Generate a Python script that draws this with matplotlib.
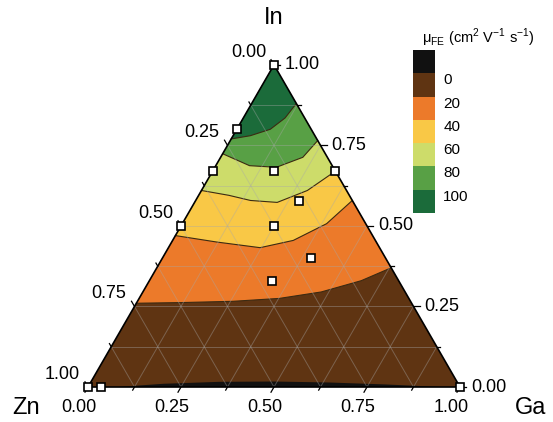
import numpy as np
import matplotlib.pyplot as plt
from matplotlib.colors import ListedColormap, BoundaryNorm
import matplotlib as mpl

plt.rcParams['font.family'] = ['Liberation Sans', 'DejaVu Sans']
plt.rcParams['mathtext.fontset'] = 'custom'
plt.rcParams['mathtext.rm'] = 'Liberation Sans'

# contour boundaries: s = position along the row (0 = Zn-In edge, 1 = Ga-In edge), In fraction
b0_s = [0.08, 0.20, 0.35, 0.50, 0.65, 0.80, 0.95]
b0_in = [0.0, 0.010, 0.016, 0.017, 0.014, 0.008, 0.0]
b20_s = [0, 0.16, 0.35, 0.52, 0.68, 0.85, 1]
b20_in = [0.26, 0.262, 0.266, 0.275, 0.295, 0.33, 0.37]
b40_s = [0, 0.22, 0.434, 0.595, 0.787, 1]
b40_in = [0.47, 0.45, 0.4325, 0.455, 0.507, 0.579]
b60_s = [0, 0.2, 0.35, 0.52, 0.73, 1]
b60_in = [0.61, 0.595, 0.579, 0.573, 0.61, 0.67]
b80_s = [0, 0.29, 0.52, 0.77, 1]
b80_in = [0.724, 0.687, 0.682, 0.713, 0.765]
b100_s = [0, 0.21, 0.45, 0.68, 1]
b100_in = [0.77, 0.78, 0.80, 0.835, 0.88]

# measured compositions (In, Ga fraction)
pts_in = [1.0, 0.80, 0.67, 0.67, 0.67, 0.577, 0.50, 0.50, 0.40, 0.33, 0.0, 0.0, 0.0]
pts_ga = [0.0, 0.0, 0.0, 0.165, 0.33, 0.28, 0.25, 0.0, 0.40, 0.33, 0.0, 0.035, 1.0]

levels = [-20, 0, 20, 40, 60, 80, 100, 120]
colors = ['#111111', '#5f3412', '#ec7a2a', '#f9c846', '#cddc6a', '#58a045', '#1b6b3a']
ticks = [0, 0.25, 0.5, 0.75, 1.0]

h = np.sqrt(3) / 2


def to_xy(inn, ga):
    inn = np.asarray(inn, float)
    ga = np.asarray(ga, float)
    return ga + inn / 2, inn * h


def row_xy(s, inn):
    s = np.asarray(s, float)
    inn = np.asarray(inn, float)
    return to_xy(inn, s * (1 - inn))


fig = plt.figure(figsize=(5.53, 4.22), dpi=100)
ax = fig.add_axes([0, 0, 1, 1])
ax.set_xlim(-88 / 372, (553 - 88) / 372)
ax.set_ylim(-(422 - 387) / 372, 387 / 372)
ax.axis('off')

# fills, from bottom (brown) to top
tx, ty = to_xy([1, 0, 0], [0, 0, 1])
ax.fill(tx, ty, color=colors[1], lw=0)
bounds = [(b20_s, b20_in), (b40_s, b40_in), (b60_s, b60_in), (b80_s, b80_in), (b100_s, b100_in)]
for i, (s, inn) in enumerate(bounds):
    x, y = row_xy(s, inn)
    ax.fill(np.r_[x, 0.5], np.r_[y, h], color=colors[i + 2], lw=0)
    ax.plot(x, y, color='#3b2a12', lw=0.8)
x, y = row_xy(b0_s, b0_in)
ax.fill(x, y, color=colors[0], lw=0)

# grid every 0.125
for v in np.arange(0.125, 1.0, 0.125):
    for xs, ys in [to_xy([v, v], [0, 1 - v]),
                   to_xy([0, 1 - v], [v, v]),
                   to_xy([0, 1 - v], [1 - v, 0])]:
        ax.plot(xs, ys, color='#a8a8a8', lw=0.7, alpha=0.4)

# outline
ax.plot(np.r_[tx, tx[0]], np.r_[ty, ty[0]], color='black', lw=1.2)

# ticks
L = 6 / 372
for v in np.arange(0, 1.001, 0.125):
    ln = L if v in ticks else L * 0.6
    x, y = to_xy(0, v)
    ax.plot([x, x - ln * 0.5], [y, y - ln * h], color='black', lw=0.9)
    x, y = to_xy(v, 1 - v)
    ax.plot([x, x + ln], [y, y], color='black', lw=0.9)
    x, y = to_xy(1 - v, 0)
    ax.plot([x, x - ln * 0.5], [y, y + ln * h], color='black', lw=0.9)

for v in ticks:
    x, y = to_xy(0, v)
    ax.annotate(f'{v:.2f}', (x, y), xytext=(-9, -21), textcoords='offset pixels',
                ha='center', va='center', fontsize=13)
    x, y = to_xy(v, 1 - v)
    ax.annotate(f'{v:.2f}', (x, y), xytext=(11, 0), textcoords='offset pixels',
                ha='left', va='center', fontsize=13)
    x, y = to_xy(1 - v, 0)
    ax.annotate(f'{v:.2f}', (x, y), xytext=(-8, 4), textcoords='offset pixels',
                ha='right', va='bottom', fontsize=13)

ax.text(0.5, (387 - 18) / 372, 'In', ha='center', va='center', fontsize=17)
ax.text((26 - 88) / 372, -21 / 372, 'Zn', ha='center', va='center', fontsize=17)
ax.text((531 - 88) / 372, -21 / 372, 'Ga', ha='center', va='center', fontsize=17)

# data points
px, py = to_xy(pts_in, pts_ga)
ax.plot(px, py, 's', ms=5.5, mfc='white', mec='black', mew=1.2, ls='none')

# colour bar
cax = fig.add_axes([413 / 553, (422 - 213) / 422, 22 / 553, 163 / 422])
cmap = ListedColormap(colors)
norm = BoundaryNorm(levels, cmap.N)
cb = fig.colorbar(mpl.cm.ScalarMappable(norm=norm, cmap=cmap), cax=cax,
                  ticks=[0, 20, 40, 60, 80, 100])
cb.outline.set_visible(False)
cax.invert_yaxis()
cax.minorticks_off()
cax.tick_params(length=0, pad=6, labelsize=11)
for lab in cax.get_yticklabels():
    lab.set_va('top')
fig.text(478 / 553, 1 - 38 / 422, r'μ$_{\rm FE}$ (cm$^{2}$ V$^{-1}$ s$^{-1}$)',
         ha='center', va='center', fontsize=10.5)

fig.savefig('out.png', dpi=100)
